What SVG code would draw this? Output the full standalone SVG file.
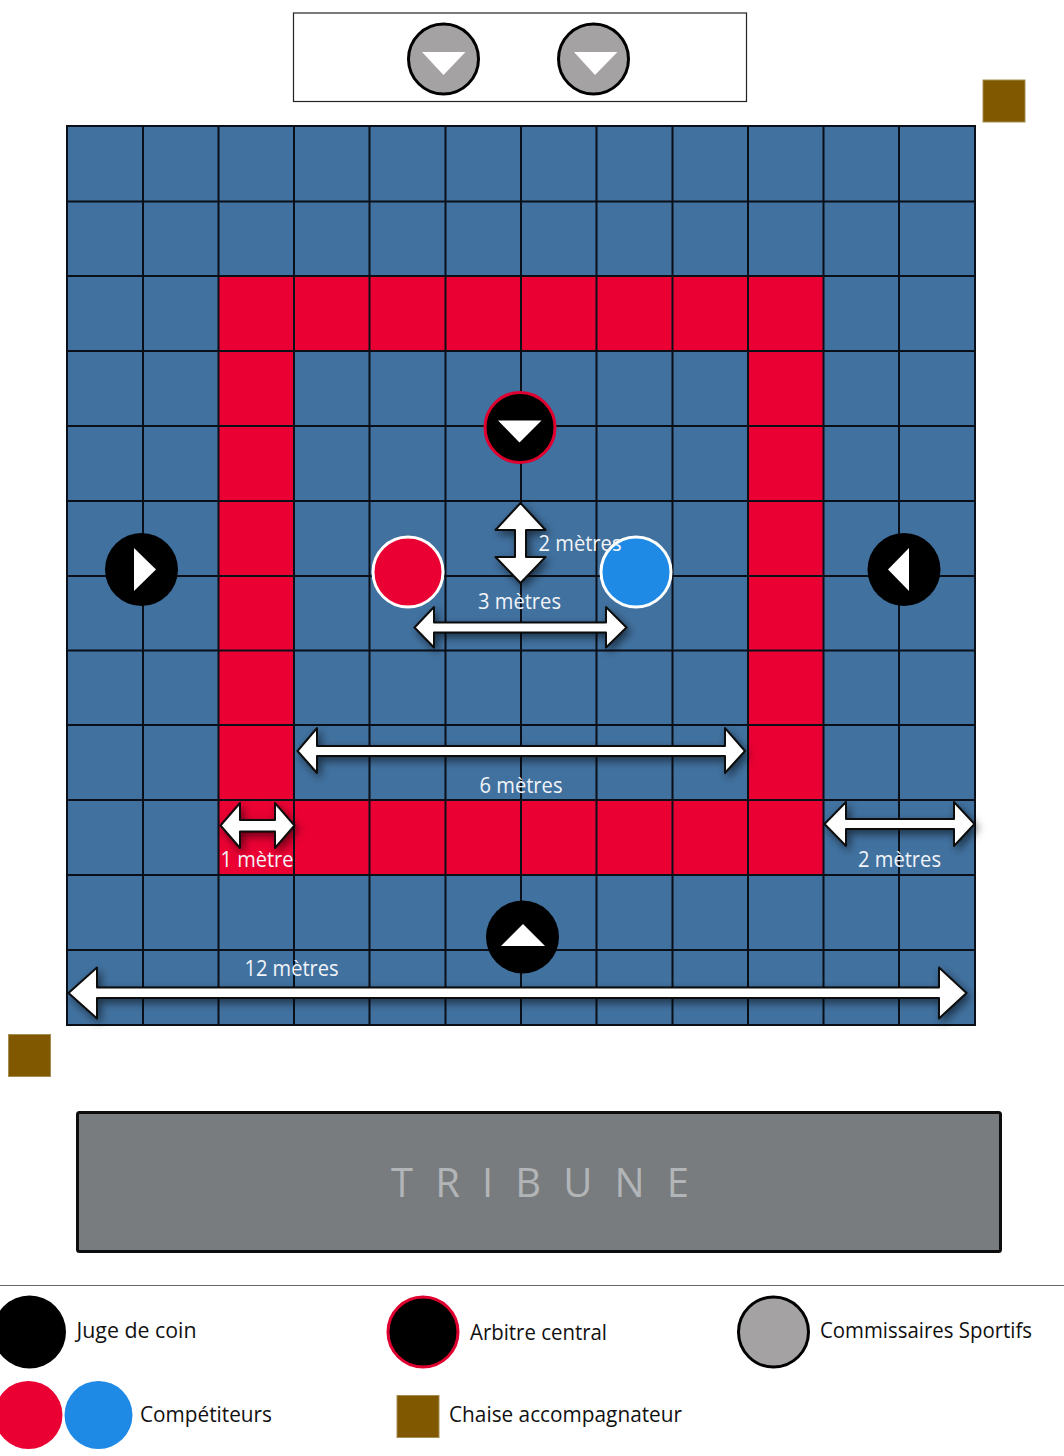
<svg xmlns="http://www.w3.org/2000/svg" width="1064" height="1456" viewBox="0 0 1064 1456">
<style>
text{font-family:"Open Sans","Noto Sans",sans-serif;font-size:22px}
.w{fill:#f2f4f8;text-anchor:middle}
.k{fill:#111}
.cell{fill:#41719f}
.red{fill:#ea0033}
.gl{stroke:#0a0f18;stroke-width:2;fill:none}
.ar{fill:#fff;stroke:#0c0c0c;stroke-width:2;stroke-linejoin:round;filter:url(#sh)}
.tri{fill:#fff}
.chair{fill:#7f5800;stroke:#a58c52;stroke-width:1}
.bk{fill:#000}
.cs{fill:#a5a2a3;stroke:#000;stroke-width:3}
.ac{fill:#000;stroke:#e00030;stroke-width:3}
</style>
<defs>
<filter id="sh" x="-20%" y="-40%" width="140%" height="200%"><feDropShadow dx="3" dy="4" stdDeviation="4" flood-color="#000" flood-opacity="0.55"/></filter>
</defs>
<g id="commissaires-box">
<rect x="293.500" y="13" width="453" height="88.500" fill="#fff" stroke="#222" stroke-width="1.200"/>
</g>
<g id="tapis">
<rect class="cell" x="67" y="126" width="908" height="899"/>
<path class="red" d="M218.500 276H823.500V875H218.500ZM294 351V800H748V351Z" fill-rule="evenodd"/>
<path class="gl" d="M67 126H975V1025H67ZM143 126V1025M218.500 126V1025M294 126V1025M369.500 126V1025M445.500 126V1025M521 126V1025M596.500 126V1025M672.500 126V1025M748 126V1025M823.500 126V1025M899 126V1025M67 201.500H975M67 276H975M67 351H975M67 426H975M67 501H975M67 576H975M67 650.500H975M67 725H975M67 800H975M67 875H975M67 950H975"/>
</g>
<g id="chaise-1"><rect class="chair" x="983" y="80" width="42" height="42"/></g>
<g id="chaise-2"><rect class="chair" x="8.500" y="1034.500" width="42" height="42"/></g>
<g id="commissaire-1"><circle class="cs" cx="443.500" cy="59" r="35"/><path class="tri" d="M422 52H465.500L443.500 75Z"/></g>
<g id="commissaire-2"><circle class="cs" cx="593.500" cy="59" r="35"/><path class="tri" d="M574 52H617.500L595 75Z"/></g>
<g id="arbitre"><circle class="ac" cx="520" cy="427.500" r="35"/><path class="tri" d="M498 420.500H541.500L519.500 442.500Z"/></g>
<g id="juge-gauche"><circle class="bk" cx="141.500" cy="569.500" r="36.500"/><path class="tri" d="M134 548V591L156 569.500Z"/></g>
<g id="juge-droit"><circle class="bk" cx="904" cy="569.500" r="36.500"/><path class="tri" d="M909 548V591L888 569.500Z"/></g>
<g id="juge-bas"><circle class="bk" cx="522.500" cy="937" r="36.500"/><path class="tri" d="M501 946H545L523 924Z"/></g>
<g id="competiteur-rouge"><circle cx="408" cy="572" r="35" fill="#ea0033" stroke="#fff" stroke-width="3"/></g>
<g id="competiteur-bleu"><circle cx="636" cy="572" r="35" fill="#1f8ae6" stroke="#fff" stroke-width="3"/></g>
<g id="connectors">
<path class="ar" d="M520.500 503L545.500 530H526V557H545.500L520.500 583L495.500 557H515V530H495.500Z"/>
<path class="ar" d="M414.500 627.500L434 607V622.500H606V607L626.500 627.500L606 647.500V632.500H434V647.500Z"/>
<path class="ar" d="M297.500 751L317 728V746H725V728L745 751L725 773V756H317V773Z"/>
<path class="ar" d="M220.500 825.500L240 803V820H275V803L294.500 825.500L275 848V831.500H240V848Z"/>
<path class="ar" d="M824.500 824L846 802V819H954V802L974.500 824L954 846V829H846V846Z"/>
<path class="ar" d="M68.500 993L97 967.500V987.500H939V967.500L966.500 993L939 1018.500V998H97V1018.500Z"/>
</g>
<g id="labels">
<text class="w" x="580" y="551" textLength="83" lengthAdjust="spacingAndGlyphs">2 mètres</text>
<text class="w" x="519.500" y="609" textLength="83" lengthAdjust="spacingAndGlyphs">3 mètres</text>
<text class="w" x="521" y="793" textLength="83" lengthAdjust="spacingAndGlyphs">6 mètres</text>
<text class="w" x="257" y="867" textLength="73" lengthAdjust="spacingAndGlyphs">1 mètre</text>
<text class="w" x="899.500" y="867" textLength="83" lengthAdjust="spacingAndGlyphs">2 mètres</text>
<text class="w" x="291.500" y="976" textLength="94" lengthAdjust="spacingAndGlyphs">12 mètres</text>
</g>
<g id="tribune">
<rect x="77.500" y="1112.500" width="923" height="139" rx="2" fill="#797c7e" stroke="#0d0d0d" stroke-width="3"/>
<text x="540" y="1197" text-anchor="middle" fill="#b2b5b7" style="font-size:40px" textLength="298">TRIBUNE</text>
</g>
<path d="M0 1285.500H1064" stroke="#666" stroke-width="1.200"/>
<g id="legende-juge"><circle class="bk" cx="29.500" cy="1332" r="36.500"/><text class="k" x="76.500" y="1338" textLength="120" lengthAdjust="spacingAndGlyphs">Juge de coin</text></g>
<g id="legende-arbitre"><circle class="ac" cx="423" cy="1332" r="35"/><text class="k" x="470" y="1340" textLength="137" lengthAdjust="spacingAndGlyphs">Arbitre central</text></g>
<g id="legende-commissaires"><circle class="cs" cx="773.500" cy="1332" r="35"/><text class="k" x="820" y="1338" textLength="212" lengthAdjust="spacingAndGlyphs">Commissaires Sportifs</text></g>
<g id="legende-competiteurs"><circle class="red" cx="28.500" cy="1415" r="34"/><circle cx="98.500" cy="1415" r="34" fill="#1f8ae6"/><text class="k" x="140" y="1422" textLength="132" lengthAdjust="spacingAndGlyphs">Compétiteurs</text></g>
<g id="legende-chaise"><rect class="chair" x="397" y="1395.500" width="42" height="42"/><text class="k" x="449" y="1422" textLength="233" lengthAdjust="spacingAndGlyphs">Chaise accompagnateur</text></g>
</svg>
